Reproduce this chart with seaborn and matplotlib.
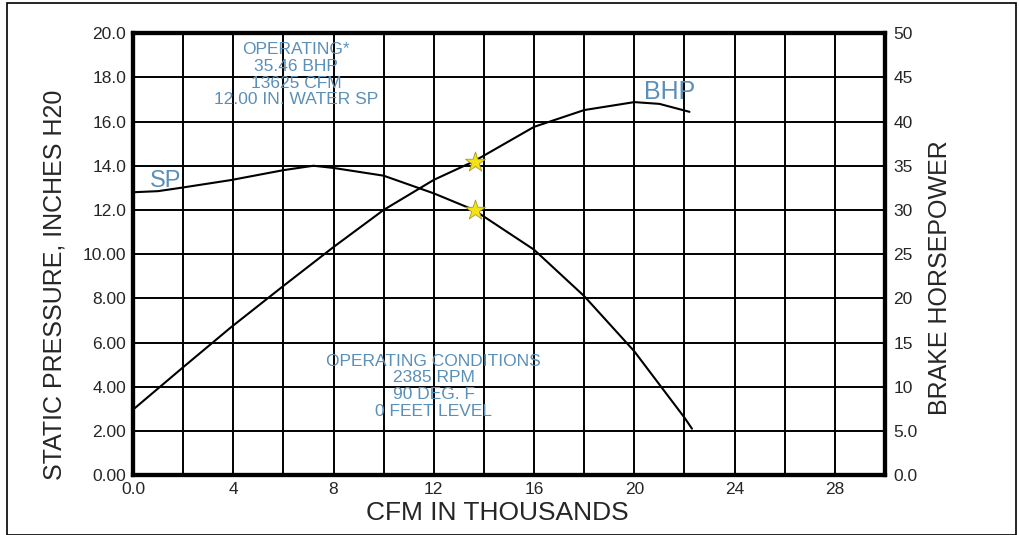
import matplotlib
matplotlib.use("Agg")
import matplotlib.pyplot as plt
import seaborn as sns
import pandas as pd
from matplotlib.patches import Rectangle

# ---- data ----
cfm_sp = [0, 1, 1.9, 3.9, 6, 7.2, 8, 10, 12, 13.6, 16, 18, 20, 22, 22.3]
sp_vals = [12.8, 12.85, 13.0, 13.35, 13.8, 14.0, 13.9, 13.55, 12.75, 12.0, 10.2, 8.1, 5.6, 2.6, 2.1]

cfm_bhp = [0, 2, 3.9, 6, 8, 10, 12, 13.6, 16, 18, 20, 21, 22.2]
bhp_vals = [7.4, 12.2, 16.7, 21.4, 25.8, 30.0, 33.4, 35.5, 39.4, 41.3, 42.2, 42.0, 41.1]

op_cfm = 13.625
op_sp = 12.0
op_bhp = 35.46

x_ticks = [0, 4, 8, 12, 16, 20, 24, 28]
x_labels = ["0.0", "4", "8", "12", "16", "20", "24", "28"]
y_ticks = [0, 2, 4, 6, 8, 10, 12, 14, 16, 18, 20]
y_labels = ["0.00", "2.00", "4.00", "6.00", "8.00", "10.00", "12.0", "14.0", "16.0", "18.0", "20.0"]
y2_ticks = [0, 5, 10, 15, 20, 25, 30, 35, 40, 45, 50]
y2_labels = ["0.0", "5.0", "10", "15", "20", "25", "30", "35", "40", "45", "50"]

op_text = "OPERATING*\n35.46 BHP\n13625 CFM\n12.00 IN. WATER SP"
cond_text = "OPERATING CONDITIONS\n2385 RPM\n90 DEG. F\n0 FEET LEVEL"

sns.set_style("white")
plt.rcParams['font.family'] = ['Liberation Sans', 'DejaVu Sans']

fig = plt.figure(figsize=(10.19, 5.35), dpi=100)
ax = fig.add_axes([0.1305, 0.112, 0.738, 0.826])
ax2 = ax.twinx()

sp_df = pd.DataFrame({"cfm": cfm_sp, "sp": sp_vals})
bhp_df = pd.DataFrame({"cfm": cfm_bhp, "bhp": bhp_vals})

sns.lineplot(data=sp_df, x="cfm", y="sp", ax=ax, color="black", lw=1.5)
sns.lineplot(data=bhp_df, x="cfm", y="bhp", ax=ax2, color="black", lw=1.5)

sns.scatterplot(x=[op_cfm], y=[op_sp], ax=ax, marker="*", s=230, color="#f2e318",
                edgecolor="#a89a20", linewidth=0.6, zorder=5)
sns.scatterplot(x=[op_cfm], y=[op_bhp], ax=ax2, marker="*", s=230, color="#f2e318",
                edgecolor="#a89a20", linewidth=0.6, zorder=5)

ax.set_xlim(0, 30)
ax.set_ylim(0, 20)
ax2.set_ylim(0, 50)

# grid
for gx in range(2, 30, 2):
    ax.axvline(gx, color="black", lw=1.4, zorder=1)
for gy in range(2, 20, 2):
    ax.axhline(gy, color="black", lw=1.4, zorder=1)

ax.set_xticks(x_ticks)
ax.set_xticklabels(x_labels)
ax.set_yticks(y_ticks)
ax.set_yticklabels(y_labels)
ax2.set_yticks(y2_ticks)
ax2.set_yticklabels(y2_labels)

ax.tick_params(axis="both", length=0, labelsize=12.5, pad=5)
ax2.tick_params(axis="y", length=0, labelsize=12.5, pad=6)

for a in (ax, ax2):
    for s in a.spines.values():
        s.set_linewidth(3)
        s.set_color("black")

ax.set_xlabel("CFM IN THOUSANDS", fontsize=19, va="center")
ax.xaxis.set_label_coords(0.485, -0.086)
ax.set_ylabel("STATIC PRESSURE, INCHES H20", fontsize=18, va="center")
ax.yaxis.set_label_coords(-0.104, 0.43)
ax2.set_ylabel("BRAKE HORSEPOWER", fontsize=18, va="center")
ax2.yaxis.set_label_coords(1.073, 0.447)

blue = "#5a8fb8"
ax.text(6.5, 19.6, op_text, ha="center", va="top", color=blue, fontsize=12.5,
        linespacing=1.15, zorder=6)
ax.text(12.0, 5.5, cond_text, ha="center", va="top", color=blue, fontsize=12.5,
        linespacing=1.15, zorder=6)
ax.text(1.3, 13.3, "SP", ha="center", va="center", color=blue, fontsize=17, zorder=6)
ax2.text(21.4, 43.4, "BHP", ha="center", va="center", color=blue, fontsize=18, zorder=6)

# scan border
fig.patches.append(Rectangle((0.007, 0.0), 0.99, 0.994, transform=fig.transFigure,
                             fill=False, edgecolor="black", lw=1.2))

fig.savefig("out.png", dpi=100)
